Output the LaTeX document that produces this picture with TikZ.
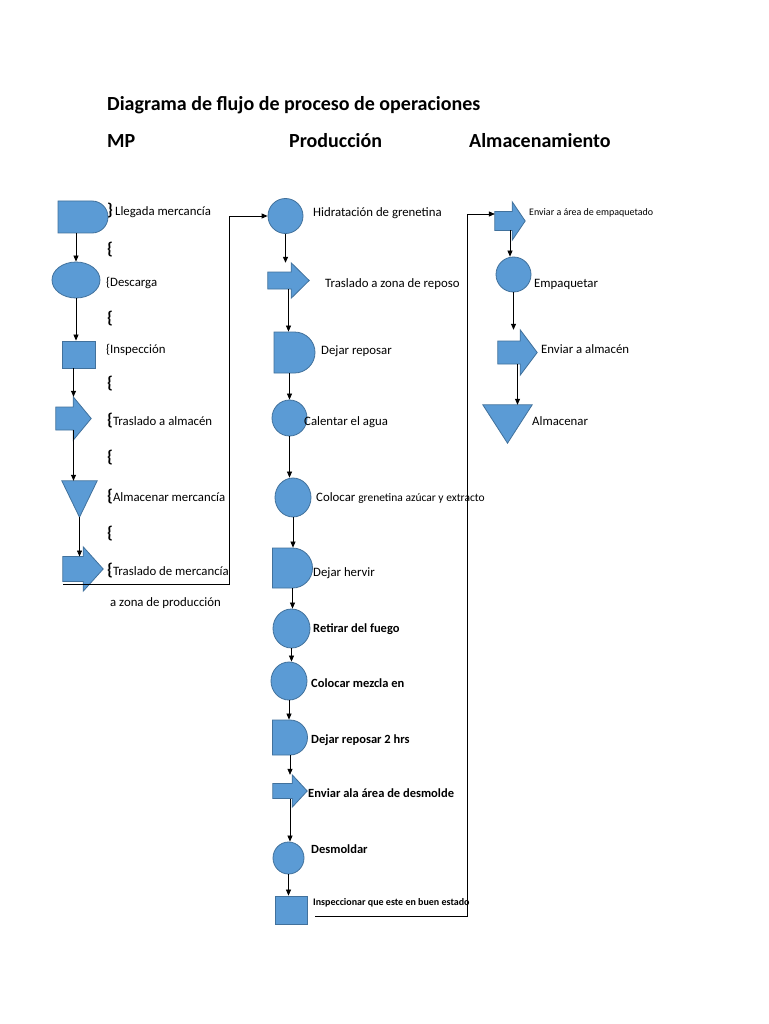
\documentclass[tikz,border=0pt]{standalone}
\usepackage{fontspec}
\setmainfont{Carlito}
\usetikzlibrary{shapes.misc,shapes.geometric,arrows.meta,calc}
\definecolor{shapeblue}{HTML}{5B9BD5}
\definecolor{shapeedge}{HTML}{41719C}
\tikzset{
  shp/.style={fill=shapeblue, draw=shapeedge, line width=0.8pt},
  conn/.style={draw=black, line width=0.7pt, -{Triangle[length=6pt,width=5pt]}},
  lbl/.style={anchor=base west, inner sep=0, font=\fontsize{12.8}{14}\selectfont},
  lblb/.style={lbl, font=\fontsize{12.5}{14}\selectfont\bfseries},
  lbls/.style={anchor=base west, inner sep=0, font=\fontsize{10}{11}\selectfont},
  brace/.style={anchor=base west, inner sep=0, font=\fontsize{17}{18}\selectfont\bfseries},
  head/.style={anchor=base west, inner sep=0, font=\fontsize{20}{22}\selectfont\bfseries},
  delayshape/.style={shp, rounded rectangle, rounded rectangle left arc=none, inner sep=0},
  opshape/.style={shp, ellipse, inner sep=0},
  inspshape/.style={shp, rectangle, inner sep=0},
}
\newcommand\blockarrow[7]{% name, cx, cy, length, width, body, headlength
  \node[inner sep=0, minimum width=#4pt, minimum height=#5pt] (#1) at (#2,#3) {};
  \coordinate (#1-bt) at ($(#1.west)+(0,-#6/2)$);
  \coordinate (#1-bb) at ($(#1.west)+(0,#6/2)$);
  \filldraw[shp] (#1-bt) -- ($(#1.east)+(-#7,-#6/2)$)
    -- ($(#1.north east)+(-#7,0)$) -- (#1.east) -- ($(#1.south east)+(-#7,0)$)
    -- ($(#1.east)+(-#7,#6/2)$) -- (#1-bb) -- cycle;
}
\newcommand\downtri[5]{% name, cx, cy, width, height
  \node[inner sep=0, minimum width=#4pt, minimum height=#5pt] (#1) at (#2,#3) {};
  \filldraw[shp] (#1.north west) -- (#1.north east) -- (#1.south) -- cycle;
}
\begin{document}
\begin{tikzpicture}[x=1pt,y=-1pt]
\fill[white] (0,0) rectangle (768,1024);
\useasboundingbox (0,0) rectangle (768,1024);

% headings
\node[head] (title) at (107,111) {Diagrama de flujo de proceso de operaciones};
\node[head] (hmp) at (107,148) {MP};
\node[head] (hpr) at (289,148) {Producción};
\node[head] (hal) at (469,148) {Almacenamiento};

% ---- MP column ----
\node[delayshape, minimum width=50pt, minimum height=32pt] (l1) at (83,217) {};
\node[opshape, minimum width=48pt, minimum height=36pt] (l2) at (76,280) {};
\node[inspshape, minimum width=33pt, minimum height=27pt] (l3) at (78.5,354.5) {};
\blockarrow{l4}{73.5}{418.5}{35}{43}{23}{18}
\downtri{l5}{79.5}{499}{35}{36}
\blockarrow{l6}{83}{569}{40}{44}{25}{20}

\node[lbl] (t1) at (107,216) {{\fontsize{17}{18}\selectfont\bfseries\}}\,Llegada mercancía};
\node[brace] (b1) at (107,254) {\{};
\node[lbl] (t2) at (106,286) {\{Descarga};
\node[brace] (b2) at (107,323) {\{};
\node[lbl] (t3) at (106,353) {\{Inspección};
\node[brace] (b3) at (107,388) {\{};
\node[lbl] (t4) at (107,425) {{\fontsize{17}{18}\selectfont\bfseries\{}Traslado a almacén};
\node[brace] (b4) at (107,462) {\{};
\node[lbl] (t5) at (107,501) {{\fontsize{17}{18}\selectfont\bfseries\{}Almacenar mercancía};
\node[brace] (b5) at (107,538) {\{};
\node[lbl] (t6) at (107,575) {{\fontsize{17}{18}\selectfont\bfseries\{}Traslado de mercancía};
\node[lbl] (t7) at (110,606) {a zona de producción};

\draw[conn] (l1.south -| l2.north) -- (l2.north);
\draw[conn] (l2.south) -- (l2.south |- l3.north);
\draw[conn] (l3.south -| l4.north) -- (l4.north);
\draw[conn] (l4.south |- l4-bb) -- (l4.south |- l5.north);
\draw[conn] (l5.south) -- (l5.south |- l6-bt);

% ---- Produccion column ----
\node[opshape, minimum width=35pt, minimum height=35pt] (m1) at (285.5,216) {};
\blockarrow{m2}{288.5}{280.5}{41}{35}{17}{18}
\node[delayshape, minimum width=39pt, minimum height=41pt] (m3) at (294.5,352.5) {};
\node[opshape, minimum width=35pt, minimum height=36pt] (m4) at (289.5,418) {};
\node[opshape, minimum width=36pt, minimum height=39pt] (m5) at (293,497.5) {};
\node[delayshape, minimum width=31pt, minimum height=40pt] (m6) at (292.5,568) {};
\node[opshape, minimum width=37pt, minimum height=39pt] (m7) at (291.5,628.5) {};
\node[opshape, minimum width=36pt, minimum height=38pt] (m8) at (289,681) {};
\node[delayshape, minimum width=34pt, minimum height=35pt] (m9) at (290,737.5) {};
\blockarrow{m10}{290}{791}{34}{32}{15}{15}
\node[opshape, minimum width=31pt, minimum height=32pt] (m11) at (288.5,858) {};
\node[inspshape, minimum width=32pt, minimum height=28pt] (m12) at (291,910) {};

\node[lbl] (p1) at (313,217) {Hidratación de grenetina};
\node[lbl] (p2) at (325,287) {Traslado a zona de reposo};
\node[lbl] (p3) at (321,354) {Dejar reposar};
\node[lbl] (p4) at (304,425) {Calentar el agua};
\node[lbl] (p5) at (316,501) {Colocar {\fontsize{11.5}{12}\selectfont grenetina azúcar y extracto}};
\node[lbl] (p6) at (313,576) {Dejar hervir};
\node[lblb] (p7) at (313,632) {Retirar del fuego};
\node[lblb] (p8) at (311,687) {Colocar mezcla en};
\node[lblb] (p9) at (311,743) {Dejar reposar 2 hrs};
\node[lblb] (p10) at (308,797) {Enviar ala área de desmolde};
\node[lblb] (p11) at (311,853) {Desmoldar};
\node[lbls, font=\fontsize{10}{11}\selectfont\bfseries] (p12) at (313,905) {Inspeccionar que este en buen estado};

\draw[conn, line width=1.2pt] (m1.south) -- (m1.south |- m2.north);
\draw[conn] (m2.south |- m2-bb) -- (m2.south |- m3.north);
\draw[conn] (m3.south -| m4.north) -- (m4.north);
\draw[conn] (m4.south) -- (m4.south |- m5.north);
\draw[conn] (m5.south) -- (m5.south |- m6.north);
\draw[conn] (m6.south) -- (m6.south |- m7.north);
\draw[conn] (m7.south) -- (m7.south |- m8.north);
\draw[conn] (m8.south) -- (m8.south |- m9.north);
\draw[conn] (m9.south) -- (m9.south |- m10.north);
\draw[conn] (m10.south |- m10-bb) -- (m10.south |- m11.north);
\draw[conn] (m11.south) -- (m11.south |- m12.north);

% ---- Almacenamiento column ----
\blockarrow{r1}{510}{221}{30}{38}{19}{13}
\node[opshape, minimum width=35pt, minimum height=35pt] (r2) at (513.5,274.5) {};
\blockarrow{r3}{517.5}{352.5}{39}{45}{23}{17}
\downtri{r4}{507.5}{424}{49}{38}

\node[lbls] (a1) at (529,216) {Enviar a área de empaquetado};
\node[lbl] (a2) at (534,287) {Empaquetar};
\node[lbl] (a3) at (541,353) {Enviar a almacén};
\node[lbl] (a4) at (532,425) {Almacenar};

\draw[conn] (r1.south |- r1-bb) -- (r1.south |- r2.north);
\draw[conn] (r2.south) -- (r2.south |- r3.north);
\draw[conn] (r3.south |- r3-bb) -- (r3.south |- r4.north);

% ---- cross-column connectors ----
\coordinate (mpout) at (63,584);
\draw[conn, line width=0.9pt] (mpout) -- ++(166,0) |- (m1.west);
\coordinate (prout) at (315,916);
\draw[conn] (prout) -- ++(152,0) |- ([yshift=7pt]r1.west);
\end{tikzpicture}
\end{document}
